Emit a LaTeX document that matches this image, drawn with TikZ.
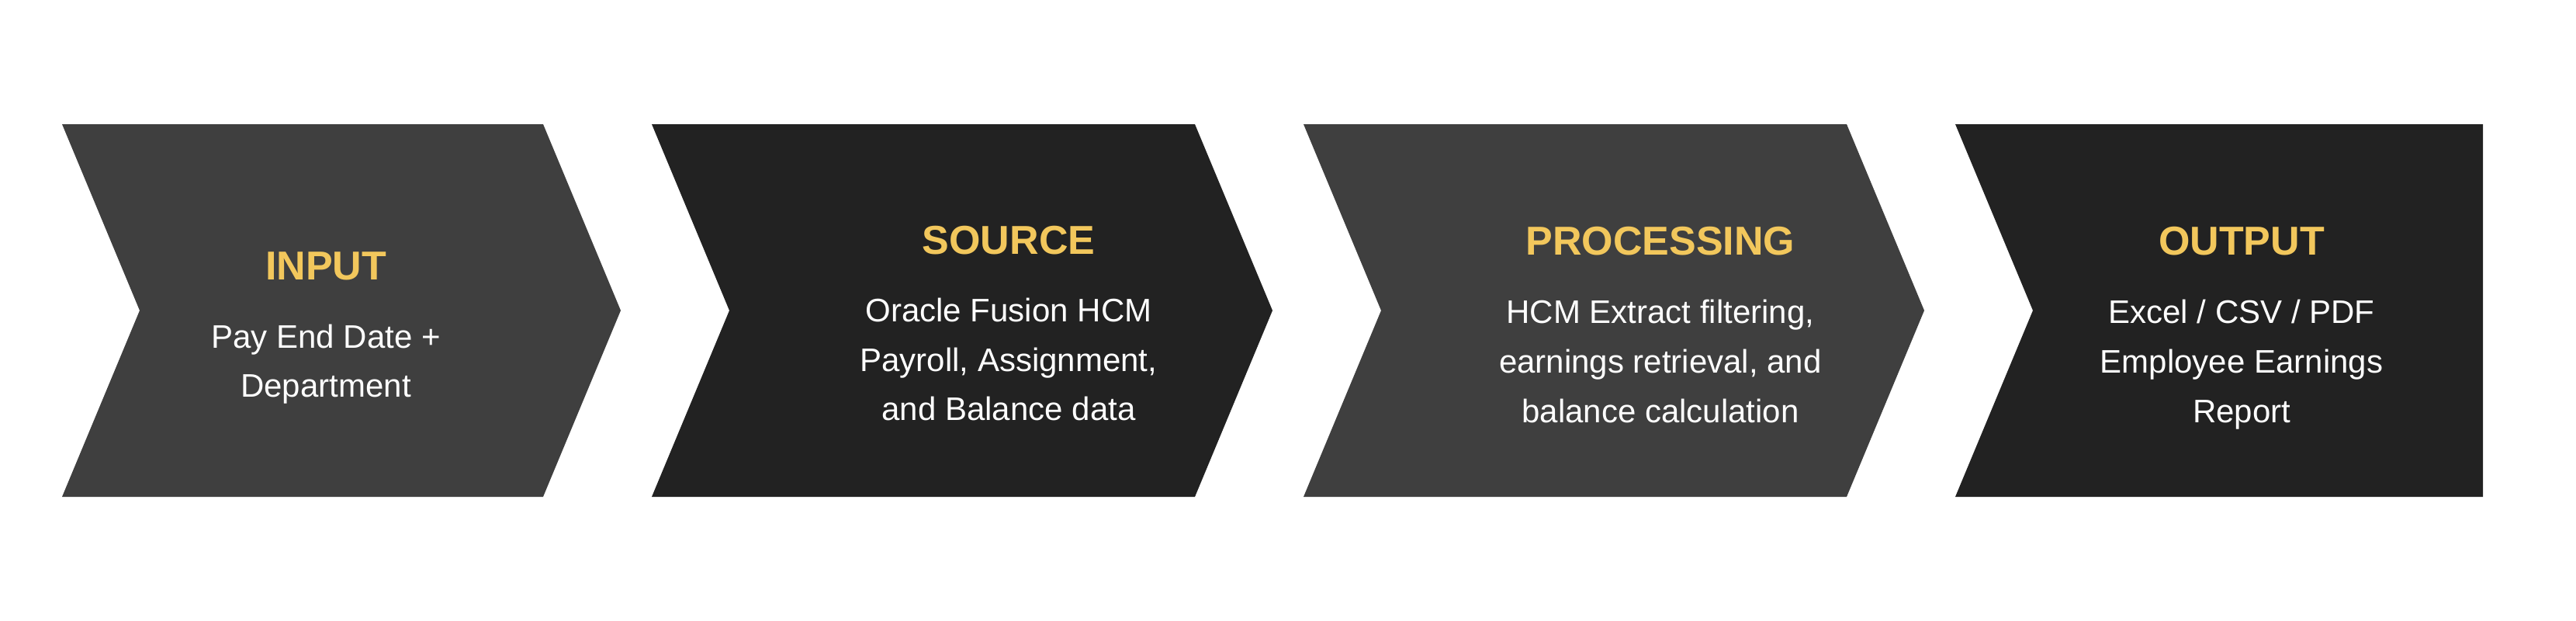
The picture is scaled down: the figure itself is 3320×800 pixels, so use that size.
\documentclass[tikz,border=0pt]{standalone}
\usepackage{fontspec}
\setmainfont{Liberation Sans}
\definecolor{chevlight}{HTML}{3F3F3F}
\definecolor{chevdark}{HTML}{222222}
\definecolor{titlegold}{HTML}{F2C75C}
\begin{document}
\begin{tikzpicture}[x=1pt,y=-1pt,
  titletext/.style={anchor=base, text=titlegold, inner sep=0pt, font=\fontsize{52}{62}\selectfont\bfseries},
  bodytext/.style={anchor=base, text=white, inner sep=0pt, font=\fontsize{42}{63}\selectfont}]
\useasboundingbox (0,0) rectangle (3320,800);
\fill[white] (0,0) rectangle (3320,800);
% chevrons
\fill[chevlight] (80,160) -- (700,160) -- (800,400) -- (700,640) -- (80,640) -- (180,400) -- cycle;
\fill[chevdark] (840,160) -- (1540,160) -- (1640,400) -- (1540,640) -- (840,640) -- (940,400) -- cycle;
\fill[chevlight] (1680,160) -- (2380,160) -- (2480,400) -- (2380,640) -- (1680,640) -- (1780,400) -- cycle;
\fill[chevdark] (2520,160) -- (3200,160) -- (3200,640) -- (2520,640) -- (2620,400) -- cycle;
% INPUT
\node[titletext] (t1) at (420,360) {INPUT};
\node[bodytext] (b1a) at (420,448) {Pay End Date +};
\node[bodytext] (b1b) at (420,511) {Department};
% SOURCE
\node[titletext] (t2) at (1300,327) {SOURCE};
\node[bodytext] (b2a) at (1300,414) {Oracle Fusion HCM};
\node[bodytext] (b2b) at (1300,478) {Payroll, Assignment,};
\node[bodytext] (b2c) at (1300,541) {and Balance data};
% PROCESSING
\node[titletext] (t3) at (2140,328) {PROCESSING};
\node[bodytext] (b3a) at (2140,416) {HCM Extract filtering,};
\node[bodytext] (b3b) at (2140,480) {earnings retrieval, and};
\node[bodytext] (b3c) at (2140,544) {balance calculation};
% OUTPUT
\node[titletext] (t4) at (2889,328) {OUTPUT};
\node[bodytext] (b4a) at (2889,416) {Excel / CSV / PDF};
\node[bodytext] (b4b) at (2889,480) {Employee Earnings};
\node[bodytext] (b4c) at (2889,544) {Report};
\end{tikzpicture}
\end{document}
